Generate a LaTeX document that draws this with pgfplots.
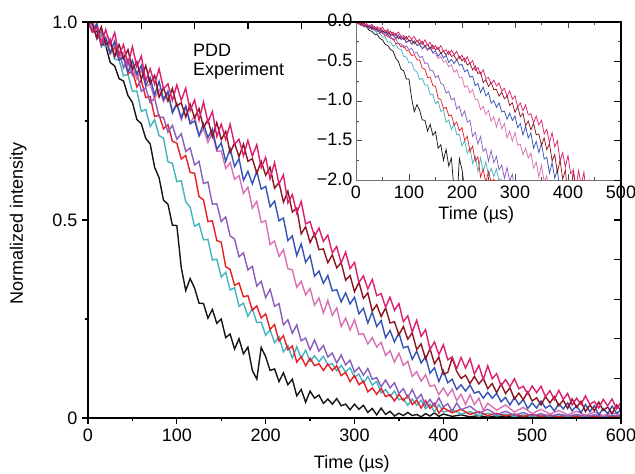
\documentclass[border=0pt]{standalone}
\usepackage{fontspec}
\setmainfont{Liberation Sans}
\usepackage{pgfplots}
\usepackage{pgfplotstable}
\pgfplotsset{compat=1.18}
\definecolor{colK}{RGB}{20,20,20}
\definecolor{colC}{RGB}{70,178,192}
\definecolor{colR}{RGB}{232,30,34}
\definecolor{colP}{RGB}{138,92,190}
\definecolor{colO}{RGB}{216,112,178}
\definecolor{colB}{RGB}{52,82,180}
\definecolor{colD}{RGB}{140,20,30}
\definecolor{colM}{RGB}{220,30,110}

\pgfplotstableread{
t y
0 1.000
5 0.975
10 0.977
15 0.945
20 0.940
25 0.898
30 0.889
35 0.857
40 0.851
45 0.814
50 0.797
55 0.754
60 0.743
65 0.706
70 0.692
75 0.633
80 0.607
85 0.550
90 0.540
95 0.487
100 0.486
105 0.380
110 0.322
115 0.352
120 0.328
125 0.290
130 0.289
135 0.252
140 0.274
145 0.239
150 0.250
155 0.203
160 0.212
165 0.174
170 0.200
175 0.162
180 0.179
185 0.120
190 0.098
195 0.178
200 0.155
205 0.120
210 0.124
215 0.092
220 0.114
225 0.084
230 0.098
235 0.056
240 0.072
245 0.040
250 0.068
255 0.050
260 0.058
265 0.037
270 0.048
275 0.035
280 0.049
285 0.031
290 0.035
295 0.021
300 0.035
305 0.022
310 0.032
315 0.014
320 0.024
325 0.008
330 0.025
335 0.009
340 0.017
345 0.005
350 0.012
355 0.006
360 0.014
365 0.006
370 0.009
375 0.003
380 0.011
385 0.005
390 0.013
395 0.004
400 0.010
410 0.004
420 0.008
430 0.003
440 0.006
450 0.002
460 0.005
470 0.003
480 0.006
490 0.002
500 0.005
510 0.003
520 0.005
530 0.002
540 0.004
550 0.003
560 0.005
570 0.002
580 0.004
590 0.003
600 0.004
}\tabK

\pgfplotstableread{
t y
0 1.000
5 1.004
10 0.957
15 0.968
20 0.937
25 0.951
30 0.906
35 0.904
40 0.864
45 0.868
50 0.825
55 0.826
60 0.774
65 0.779
70 0.736
75 0.753
80 0.713
85 0.707
90 0.647
95 0.643
100 0.597
105 0.599
110 0.546
115 0.532
120 0.484
125 0.491
130 0.450
135 0.451
140 0.399
145 0.401
150 0.356
155 0.368
160 0.323
165 0.329
170 0.282
175 0.290
180 0.257
185 0.276
190 0.241
195 0.242
200 0.209
205 0.223
210 0.190
215 0.205
220 0.167
225 0.183
230 0.151
235 0.180
240 0.151
245 0.171
250 0.143
255 0.157
260 0.142
265 0.156
270 0.134
275 0.137
280 0.119
285 0.133
290 0.116
295 0.127
300 0.103
305 0.111
310 0.088
315 0.105
320 0.083
325 0.092
330 0.063
335 0.072
340 0.054
345 0.068
350 0.046
355 0.049
360 0.032
365 0.048
370 0.032
375 0.045
380 0.023
385 0.035
390 0.015
395 0.034
400 0.015
410 0.021
420 0.010
430 0.016
440 0.006
450 0.012
460 0.005
470 0.010
480 0.004
490 0.008
500 0.003
510 0.007
520 0.004
530 0.008
540 0.003
550 0.006
560 0.003
570 0.007
580 0.004
590 0.006
600 0.003
}\tabC

\pgfplotstableread{
t y
0 1.000
5 0.975
10 0.991
15 0.954
20 0.954
25 0.920
30 0.936
35 0.904
40 0.913
45 0.869
50 0.876
55 0.836
60 0.853
65 0.809
70 0.812
75 0.761
80 0.765
85 0.730
90 0.741
95 0.699
100 0.694
105 0.654
110 0.663
115 0.620
120 0.618
125 0.559
130 0.551
135 0.496
140 0.498
145 0.448
150 0.444
155 0.382
160 0.375
165 0.335
170 0.341
175 0.306
180 0.309
185 0.272
190 0.283
195 0.253
200 0.263
205 0.224
210 0.236
215 0.194
220 0.208
225 0.172
230 0.182
235 0.141
240 0.155
245 0.132
250 0.151
255 0.132
260 0.137
265 0.120
270 0.136
275 0.120
280 0.132
285 0.107
290 0.115
295 0.092
300 0.107
305 0.084
310 0.093
315 0.066
320 0.076
325 0.060
330 0.075
335 0.054
340 0.059
345 0.043
350 0.060
355 0.044
360 0.057
365 0.034
370 0.045
375 0.025
380 0.044
385 0.024
390 0.037
395 0.012
400 0.026
410 0.013
420 0.022
430 0.009
440 0.016
450 0.006
460 0.012
470 0.005
480 0.010
490 0.004
500 0.009
510 0.004
520 0.008
530 0.003
540 0.007
550 0.004
560 0.008
570 0.003
580 0.006
590 0.004
600 0.006
}\tabR

\pgfplotstableread{
t y
0 1.000
5 0.992
10 0.957
15 0.977
20 0.944
25 0.958
30 0.913
35 0.925
40 0.884
45 0.906
50 0.865
55 0.875
60 0.825
65 0.834
70 0.796
75 0.808
80 0.760
85 0.759
90 0.722
95 0.739
100 0.704
105 0.718
110 0.673
115 0.682
120 0.639
125 0.648
130 0.592
135 0.596
140 0.540
145 0.541
150 0.496
155 0.508
160 0.460
165 0.452
170 0.407
175 0.417
180 0.374
185 0.383
190 0.333
195 0.345
200 0.304
205 0.325
210 0.282
215 0.289
220 0.235
225 0.248
230 0.214
235 0.235
240 0.195
245 0.202
250 0.172
255 0.197
260 0.169
265 0.183
270 0.154
275 0.164
280 0.139
285 0.159
290 0.134
295 0.146
300 0.116
305 0.128
310 0.108
315 0.125
320 0.098
325 0.102
330 0.079
335 0.096
340 0.076
345 0.089
350 0.062
355 0.074
360 0.051
365 0.072
370 0.047
375 0.060
380 0.031
385 0.047
390 0.030
395 0.051
400 0.028
405 0.036
410 0.017
415 0.038
420 0.021
430 0.030
440 0.012
450 0.022
460 0.008
470 0.017
480 0.007
490 0.014
500 0.005
510 0.011
520 0.004
530 0.010
540 0.005
550 0.009
560 0.004
570 0.008
580 0.003
590 0.007
600 0.005
}\tabP

\pgfplotstableread{
t y
0 1.000
5 0.981
10 0.997
15 0.950
20 0.963
25 0.921
30 0.950
35 0.907
40 0.923
45 0.872
50 0.890
55 0.856
60 0.880
65 0.838
70 0.842
75 0.806
80 0.830
85 0.799
90 0.820
95 0.776
100 0.793
105 0.753
110 0.785
115 0.745
120 0.763
125 0.712
130 0.730
135 0.696
140 0.720
145 0.674
150 0.674
155 0.630
160 0.645
165 0.603
170 0.612
175 0.567
180 0.583
185 0.530
190 0.547
195 0.494
200 0.498
205 0.438
210 0.447
215 0.408
220 0.425
225 0.377
230 0.374
235 0.330
240 0.345
245 0.311
250 0.327
255 0.285
260 0.303
265 0.265
270 0.297
275 0.259
280 0.278
285 0.231
290 0.252
295 0.222
300 0.248
305 0.211
310 0.213
315 0.187
320 0.203
325 0.179
330 0.191
335 0.158
340 0.170
345 0.141
350 0.164
355 0.133
360 0.143
365 0.105
370 0.117
375 0.093
380 0.109
385 0.080
390 0.083
395 0.059
400 0.076
405 0.056
410 0.073
415 0.044
420 0.060
425 0.034
430 0.059
435 0.034
440 0.050
445 0.019
450 0.037
460 0.020
470 0.033
480 0.015
490 0.027
500 0.011
510 0.022
520 0.010
530 0.019
540 0.008
550 0.017
560 0.007
570 0.015
580 0.006
590 0.013
600 0.008
}\tabO

\pgfplotstableread{
t y
0 1.000
5 0.978
10 0.995
15 0.938
20 0.958
25 0.922
30 0.951
35 0.904
40 0.910
45 0.873
50 0.903
55 0.868
60 0.890
65 0.840
70 0.860
75 0.815
80 0.850
85 0.805
90 0.825
95 0.770
100 0.793
105 0.758
110 0.788
115 0.743
120 0.750
125 0.713
130 0.743
135 0.708
140 0.730
145 0.678
150 0.695
155 0.648
160 0.680
165 0.635
170 0.655
175 0.600
180 0.623
185 0.591
190 0.623
195 0.578
200 0.585
205 0.533
210 0.548
215 0.498
220 0.505
225 0.448
230 0.460
235 0.410
240 0.440
245 0.393
250 0.410
255 0.358
260 0.371
265 0.340
270 0.360
275 0.321
280 0.324
285 0.293
290 0.316
295 0.288
300 0.305
305 0.263
310 0.277
315 0.240
320 0.267
325 0.231
330 0.246
335 0.203
340 0.221
345 0.192
350 0.215
355 0.177
360 0.181
365 0.148
370 0.169
375 0.139
380 0.155
385 0.113
390 0.127
395 0.092
400 0.120
405 0.089
410 0.098
415 0.072
420 0.084
425 0.068
430 0.083
435 0.063
440 0.067
445 0.050
450 0.065
455 0.050
460 0.062
465 0.041
470 0.052
475 0.033
480 0.052
485 0.034
490 0.047
495 0.024
500 0.038
505 0.025
510 0.043
515 0.025
520 0.032
525 0.018
530 0.036
535 0.023
540 0.038
545 0.018
550 0.031
555 0.013
560 0.034
565 0.016
570 0.031
575 0.008
580 0.024
585 0.011
590 0.030
595 0.012
600 0.020
}\tabB

\pgfplotstableread{
t y
0 1.000
5 0.997
10 0.960
15 0.988
20 0.943
25 0.950
30 0.913
35 0.943
40 0.908
45 0.930
50 0.880
55 0.900
60 0.855
65 0.890
70 0.845
75 0.865
80 0.810
85 0.834
90 0.800
95 0.832
100 0.788
105 0.796
110 0.760
115 0.792
120 0.758
125 0.781
130 0.733
135 0.754
140 0.710
145 0.746
150 0.703
155 0.724
160 0.670
165 0.694
170 0.660
175 0.692
180 0.648
185 0.655
190 0.618
195 0.648
200 0.613
205 0.633
210 0.580
215 0.595
220 0.545
225 0.573
230 0.520
235 0.530
240 0.465
245 0.483
250 0.443
255 0.466
260 0.425
265 0.427
270 0.392
275 0.412
280 0.379
285 0.393
290 0.348
295 0.360
300 0.319
305 0.343
310 0.302
315 0.316
320 0.270
325 0.286
330 0.256
335 0.278
340 0.240
345 0.243
350 0.210
355 0.231
360 0.199
365 0.215
370 0.173
375 0.187
380 0.149
385 0.175
390 0.137
395 0.154
400 0.110
405 0.115
410 0.152
415 0.118
420 0.100
425 0.108
430 0.087
435 0.105
440 0.086
445 0.100
450 0.074
455 0.087
460 0.064
465 0.086
470 0.062
475 0.076
480 0.048
485 0.063
490 0.046
495 0.066
500 0.043
505 0.051
510 0.033
515 0.054
520 0.038
525 0.054
530 0.031
535 0.045
540 0.024
545 0.048
550 0.027
555 0.042
560 0.016
565 0.033
570 0.018
575 0.040
580 0.019
585 0.028
590 0.011
595 0.033
600 0.018
}\tabD

\pgfplotstableread{
t y
0 1.000
5 0.975
10 0.986
15 0.943
20 0.981
25 0.942
30 0.973
35 0.916
40 0.943
45 0.892
50 0.938
55 0.887
60 0.914
65 0.851
70 0.882
75 0.843
80 0.882
85 0.831
90 0.844
95 0.802
100 0.841
105 0.802
110 0.833
115 0.776
120 0.803
125 0.752
130 0.798
135 0.747
140 0.774
145 0.711
150 0.742
155 0.703
160 0.742
165 0.691
170 0.704
175 0.662
180 0.701
185 0.661
190 0.690
195 0.632
200 0.658
205 0.604
210 0.645
215 0.591
220 0.614
225 0.543
230 0.564
235 0.517
240 0.547
245 0.490
250 0.496
255 0.458
260 0.480
265 0.446
270 0.462
275 0.417
280 0.433
285 0.391
290 0.419
295 0.377
300 0.393
305 0.342
310 0.359
315 0.326
320 0.350
325 0.309
330 0.314
335 0.280
340 0.305
345 0.272
350 0.289
355 0.243
360 0.258
365 0.217
370 0.247
375 0.206
380 0.223
385 0.173
390 0.192
395 0.160
400 0.185
405 0.147
410 0.154
415 0.124
420 0.153
425 0.126
430 0.150
435 0.111
440 0.133
445 0.097
450 0.132
455 0.099
460 0.112
465 0.081
470 0.097
475 0.079
480 0.099
485 0.074
490 0.080
495 0.061
500 0.081
505 0.064
510 0.080
515 0.054
520 0.069
525 0.046
530 0.070
535 0.047
540 0.062
545 0.033
550 0.050
555 0.034
560 0.056
565 0.034
570 0.042
575 0.025
580 0.047
585 0.031
590 0.048
595 0.023
600 0.039
}\tabM

\begin{document}
\begin{tikzpicture}
\pgfplotsset{
  every axis/.append style={
    scale only axis,
    /pgf/number format/assume math mode=true,
    tick label style={font=\fontsize{13.5}{15}\selectfont},
    label style={font=\fontsize{13.5}{15}\selectfont},
    axis line style={line width=1.1pt},
    every tick/.style={line width=0.9pt, black},
    major tick length=4.5pt,
    minor tick length=2.5pt,
  },
}
% main axis
\begin{axis}[
  name=main,
  width=399.75pt, height=297pt,
  xmin=0, xmax=600, ymin=0, ymax=1,
  xtick={0,100,...,600},
  minor xtick={50,150,...,550},
  ytick={0,0.5,1},
  yticklabels={0,0.5,1.0},
  minor ytick={0.25,0.75},
  tick pos=left,
  tick align=outside,
  xlabel={Time (µs)},
  ylabel={Normalized intensity},
  xlabel style={at={(axis description cs:0.495,-0.093)}, anchor=north, inner sep=0pt},
  ylabel style={at={(axis description cs:-0.131,0.49)}, anchor=center, inner sep=0pt},
  every axis plot/.append style={line width=1.05pt},
]
\addplot[color=colK] table[x=t,y=y] \tabK;
\addplot[color=colC] table[x=t,y=y] \tabC;
\addplot[color=colR] table[x=t,y=y] \tabR;
\addplot[color=colP] table[x=t,y=y] \tabP;
\addplot[color=colO] table[x=t,y=y] \tabO;
\addplot[color=colB] table[x=t,y=y] \tabB;
\addplot[color=colD] table[x=t,y=y] \tabD;
\addplot[color=colM] table[x=t,y=y] \tabM;
\node[anchor=north west, inner sep=0pt, align=left, font=\fontsize{13.5}{14.5}\selectfont] at (axis cs:118,0.945) {PDD\\Experiment};
\end{axis}
% inset
\begin{axis}[
  name=ins,
  at={(main.north east)}, anchor=north east,
  width=198.75pt, height=118.7pt,
  xmin=0, xmax=500, ymin=-2, ymax=0,
  axis background/.style={fill=white},
  axis line style={line width=0.5pt, black!55},
  xtick={0,100,...,500},
  minor xtick={50,150,...,450},
  ytick={-2,-1.5,-1,-0.5,0},
  yticklabels={−2.0,−1.5,−1.0,−0.5,0.0},
  minor ytick={-1.75,-1.25,-0.75,-0.25},
  every tick/.style={line width=0.6pt, black!70},
  tick align=inside,
  yticklabel style={inner sep=1pt, xshift=-1.5pt, yshift=1pt},
  xticklabel style={yshift=-1pt},
  xlabel={Time (µs)},
  xlabel style={at={(axis description cs:0.454,-0.165)}, anchor=north, inner sep=0pt},
  every axis plot/.append style={line width=0.55pt},
]
\addplot[color=colK] table[x=t,y expr={ln(\thisrow{y})}] \tabK;
\addplot[color=colC] table[x=t,y expr={ln(\thisrow{y})}] \tabC;
\addplot[color=colR] table[x=t,y expr={ln(\thisrow{y})}] \tabR;
\addplot[color=colP] table[x=t,y expr={ln(\thisrow{y})}] \tabP;
\addplot[color=colO] table[x=t,y expr={ln(\thisrow{y})}] \tabO;
\addplot[color=colB] table[x=t,y expr={ln(\thisrow{y})}] \tabB;
\addplot[color=colD] table[x=t,y expr={ln(\thisrow{y})}] \tabD;
\addplot[color=colM] table[x=t,y expr={ln(\thisrow{y})}] \tabM;
\end{axis}
% frame, top and right ticks of main axis (over the inset)
\begin{axis}[
  at={(main.south west)}, anchor=south west,
  width=399.75pt, height=297pt,
  xmin=0, xmax=600, ymin=0, ymax=1,
  xtick={60,120,180,240},
  ytick={0.1,0.2,...,0.9},
  xticklabels={}, yticklabels={},
  xtick pos=upper, ytick pos=upper,
  tick align=inside,
  major tick length=5pt,
]
\end{axis}
\pgfresetboundingbox
\path[use as bounding box] ([shift={(-66pt,-42pt)}]main.south west) rectangle ([shift={(10.5pt,16.5pt)}]main.north east);
\end{tikzpicture}
\end{document}
